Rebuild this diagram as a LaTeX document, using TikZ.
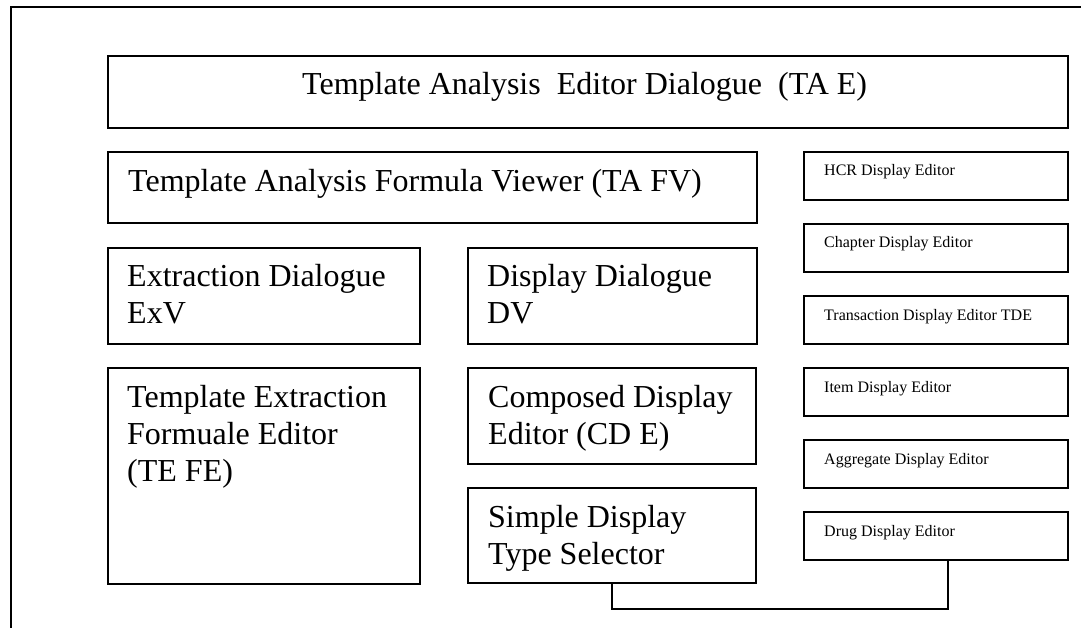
\documentclass[tikz,border=0pt]{standalone}
\usepackage{fontspec}
\setmainfont{Liberation Serif}
\usetikzlibrary{calc}
\tikzset{
  panel/.style={draw, line width=1.8pt, rectangle, inner sep=0pt, anchor=north west},
  bigtext/.style={anchor=base west, inner sep=0pt, font=\fontsize{32}{37}\selectfont},
  smalltext/.style={anchor=base west, inner sep=0pt, font=\fontsize{16}{19}\selectfont},
  frame/.style={line width=2.2pt},
  link/.style={line width=1.6pt},
}
\newcommand\lines[1]{\begin{tabular}[t]{@{}l@{}}#1\end{tabular}}
\begin{document}
\begin{tikzpicture}[x=1pt, y=1pt]
  \useasboundingbox (0,0) rectangle (1081,-628);

  % outer frame (top and left edges)
  \draw[frame] (1081,-7) -- (11,-7) -- (11,-628);

  % main panels
  \node[panel, minimum width=960pt, minimum height=72pt] (tae)  at (107,-55)  {};
  \node[panel, minimum width=649pt, minimum height=71pt] (tafv) at (107,-151) {};
  \node[panel, minimum width=312pt, minimum height=96pt] (exv)  at (107,-247) {};
  \node[panel, minimum width=289pt, minimum height=96pt] (dv)   at (467,-247) {};
  \node[panel, minimum width=312pt, minimum height=216pt] (tefe) at (107,-367) {};
  \node[panel, minimum width=288pt, minimum height=96pt] (cde)  at (467,-367) {};
  \node[panel, minimum width=288pt, minimum height=95pt] (sdts) at (467,-487) {};

  % display editors column
  \node[panel, minimum width=264pt, minimum height=48pt] (hcr)  at (803,-151) {};
  \node[panel, minimum width=264pt, minimum height=48pt] (chap) at (803,-223) {};
  \node[panel, minimum width=264pt, minimum height=48pt] (tde)  at (803,-295) {};
  \node[panel, minimum width=264pt, minimum height=48pt] (item) at (803,-367) {};
  \node[panel, minimum width=264pt, minimum height=48pt] (aggr) at (803,-439) {};
  \node[panel, minimum width=264pt, minimum height=48pt] (drug) at (803,-511) {};

  % panel captions
  \node[bigtext] (taeT)  at ($(tae.north west)+(195,-40)$)  {Template Analysis~~Editor Dialogue~~(TA E)};
  \node[bigtext] (tafvT) at ($(tafv.north west)+(21,-41)$)  {Template Analysis Formula Viewer (TA FV)};
  \node[bigtext] (exvT)  at ($(exv.north west)+(20,-40)$)   {\lines{Extraction Dialogue\\ExV}};
  \node[bigtext] (dvT)   at ($(dv.north west)+(20,-40)$)    {\lines{Display Dialogue\\DV}};
  \node[bigtext] (tefeT) at ($(tefe.north west)+(20,-40)$)  {\lines{Template Extraction\\Formuale Editor\\(TE FE)}};
  \node[bigtext] (cdeT)  at ($(cde.north west)+(21,-40)$)   {\lines{Composed Display\\Editor (CD E)}};
  \node[bigtext] (sdtsT) at ($(sdts.north west)+(21,-40)$)  {\lines{Simple Display\\Type Selector}};

  \node[smalltext] (hcrT)  at ($(hcr.north west)+(21,-25)$)  {HCR Display Editor};
  \node[smalltext] (chapT) at ($(chap.north west)+(21,-25)$) {Chapter Display Editor};
  \node[smalltext] (tdeT)  at ($(tde.north west)+(21,-25)$)  {Transaction Display Editor TDE};
  \node[smalltext] (itemT) at ($(item.north west)+(21,-25)$) {Item Display Editor};
  \node[smalltext] (aggrT) at ($(aggr.north west)+(21,-25)$) {Aggregate Display Editor};
  \node[smalltext] (drugT) at ($(drug.north west)+(21,-25)$) {Drug Display Editor};

  % link between the type selector and the drug display editor
  \coordinate (drugJoin) at ($(drug.south)+(12,0)$);
  \draw[link] (sdts.south) -- ++(0,-25) -| (drugJoin);
\end{tikzpicture}
\end{document}
